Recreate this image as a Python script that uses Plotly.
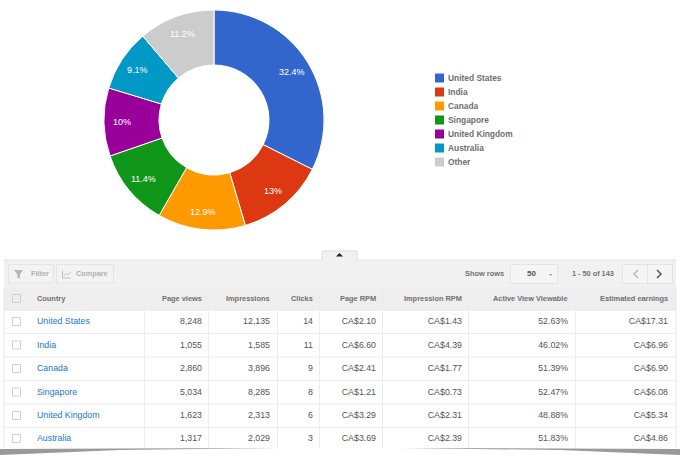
import math

import plotly.graph_objects as go

countries = ['United States', 'India', 'Canada', 'Singapore', 'United Kingdom', 'Australia', 'Other']
shares = [32.4, 13, 12.9, 11.4, 10, 9.1, 11.2]
colors = ['#3366cc', '#dc3912', '#ff9900', '#109618', '#990099', '#0099c6', '#cccccc']

headers = ['Page views', 'Impressions', 'Clicks', 'Page RPM',
           'Impression RPM', 'Active View Viewable', 'Estimated earnings']
table_countries = countries[:6]
page_views = ['8,248', '1,055', '2,860', '5,034', '1,623', '1,317']
impressions = ['12,135', '1,585', '3,896', '8,285', '2,313', '2,029']
clicks = ['14', '11', '9', '8', '6', '3']
page_rpm = ['CA$2.10', 'CA$6.60', 'CA$2.41', 'CA$1.21', 'CA$3.29', 'CA$3.69']
impression_rpm = ['CA$1.43', 'CA$4.39', 'CA$1.77', 'CA$0.73', 'CA$2.31', 'CA$2.39']
viewable = ['52.63%', '46.02%', '51.39%', '52.47%', '48.88%', '51.83%']
earnings = ['CA$17.31', 'CA$6.96', 'CA$6.90', 'CA$6.08', 'CA$5.34', 'CA$4.86']

W, H = 680, 455
FONT = 'Liberation Sans, Arial, sans-serif'
CLEAR = 'rgba(0,0,0,0)'


def px(x):
    return x / W


def py(y):
    return 1 - y / H


def rect(x0, y0, x1, y1, fill=None, line=None, width=1, layer='above'):
    return dict(type='rect', xref='paper', yref='paper', x0=px(x0), x1=px(x1), y0=py(y0), y1=py(y1),
                fillcolor=fill or CLEAR, line=dict(color=line or CLEAR, width=width if line else 0),
                layer=layer)


def path(points, fill=None, line=None, width=1, close=True):
    d = 'M' + ' L'.join(f'{px(x):.5f},{py(y):.5f}' for x, y in points) + (' Z' if close else '')
    return dict(type='path', xref='paper', yref='paper', path=d,
                fillcolor=fill or CLEAR, line=dict(color=line or CLEAR, width=width if line else 0),
                layer='above')


def label(x, y, text, size=8.5, color='#666666', anchor='left', bold=False):
    if bold:
        text = f'<b>{text}</b>'
    return dict(xref='paper', yref='paper', x=px(x), y=py(y), text=text, showarrow=False,
                xanchor=anchor, yanchor='middle', font=dict(family=FONT, size=size, color=color))


fig = go.Figure()

fig.add_trace(go.Pie(
    labels=countries, values=shares, hole=0.5, sort=False, direction='clockwise', rotation=0,
    marker=dict(colors=colors, line=dict(color='white', width=1)),
    textinfo='none',
    domain=dict(x=[px(104), px(324)], y=[py(230), py(10)]),
    showlegend=False,
))

# header text is placed separately, the table's own header row only reserves the space
fig.add_trace(go.Table(
    domain=dict(x=[px(4), px(676)], y=[py(451), py(287.3)]),
    columnwidth=[25, 115, 66, 68, 43, 63, 86, 106, 100],
    header=dict(
        values=[''] * 9, height=22.5,
        fill_color=CLEAR, line=dict(width=0, color=CLEAR),
        font=dict(family=FONT, size=7.4, color='#707070'),
    ),
    cells=dict(
        values=[[''] * 6, table_countries, page_views, impressions, clicks, page_rpm,
                impression_rpm, viewable, earnings],
        align=['left', 'left'] + ['right'] * 7, height=23.4,
        fill_color=CLEAR, line=dict(width=0, color=CLEAR),
        font=dict(family=FONT, size=8.8,
                  color=['#555555', '#2277cc'] + ['#555555'] * 7),
    ),
))

shapes = []
annotations = []

# header band sits under the table text
shapes.append(rect(4, 287, 676, 311, fill='#eeeeee', layer='below'))
annotations.append(label(34.5, 298.8, 'Country', size=7.4, color='#707070', bold=True))
for right, head in zip([203.5, 272, 314.5, 377.5, 463.5, 570, 670], headers):
    annotations.append(label(right, 298.8, head, size=7.4, color='#707070', anchor='right', bold=True))

# slice labels
total = sum(shares)
running = 0
for s in shares:
    angle = 2 * math.pi * (running + s / 2) / total
    running += s
    annotations.append(label(214 + 92 * math.sin(angle), 120.5 - 92 * math.cos(angle), f'{s:g}%',
                             size=9, color='white', anchor='center'))

# panel behind the toolbar
shapes.append(rect(4, 260, 676, 287, fill='#f1f1f1'))
shapes.append(path([(322, 260), (322, 251), (357, 251), (357, 260)], fill='#f1f1f1', line='#dddddd', close=False))
shapes.append(path([(336, 256.5), (343, 256.5), (339.5, 253)], fill='#222222'))
shapes.append(path([(4, 260), (322, 260)], line='#e2e2e2', close=False))
shapes.append(path([(357, 260), (676, 260)], line='#e2e2e2', close=False))

# filter and compare buttons
shapes.append(rect(8.5, 264.5, 53.5, 283, fill='#f3f3f3', line='#e4e4e4'))
shapes.append(rect(56.5, 264.5, 113.5, 283, fill='#f3f3f3', line='#e4e4e4'))
shapes.append(path([(14, 270), (23, 270), (20, 274.5), (20, 278), (17.5, 278), (17.5, 274.5)], fill='#b5b5b5'))
shapes.append(path([(62.5, 270.5), (62.5, 278), (70.5, 278)], line='#c0c0c0', close=False))
shapes.append(path([(64, 276), (66.5, 273.5), (68, 275), (70.5, 272)], line='#c0c0c0', close=False))
annotations.append(label(28.5, 273.5, 'Filter', size=7.3, color='#b0b0b0', bold=True))
annotations.append(label(74.2, 273.5, 'Compare', size=7.3, color='#b0b0b0', bold=True))

# pager
annotations.append(label(462.5, 273.5, 'Show rows', size=7.4, color='#707070', bold=True))
shapes.append(rect(510.5, 264.5, 557.5, 283.5, fill='#f5f5f5', line='#e4e4e4'))
annotations.append(label(531, 273.5, '50', size=8, color='#555555', anchor='center', bold=True))
shapes.append(path([(549, 274), (552.5, 274), (550.75, 276)], fill='#999999'))
annotations.append(label(570.2, 273.5, '1 - 50 of 143', size=7.3, color='#707070', bold=True))
shapes.append(rect(622.5, 264.5, 672.5, 283.5, fill='#f5f5f5', line='#e4e4e4'))
shapes.append(path([(647.5, 264.5), (647.5, 283.5)], line='#e4e4e4', close=False))
shapes.append(path([(638, 270), (634, 274), (638, 278)], line='#bbbbbb', width=1.5, close=False))
shapes.append(path([(657, 270), (661, 274), (657, 278)], line='#555555', width=1.5, close=False))

# grid lines over the table
for y in [333.5, 357, 380.5, 404, 427.5]:
    shapes.append(path([(4, y), (676, y)], line='#ececec', close=False))
for x in [144.5, 208.5, 277.5, 319.5, 382.5, 468.5, 575.5]:
    shapes.append(path([(x, 287), (x, 449)], line='#ececec', close=False))
shapes.append(path([(4, 287), (4, 449)], line='#e8e8e8', close=False))
shapes.append(path([(676, 287), (676, 449)], line='#e8e8e8', close=False))

# checkboxes
for yc in [298.5, 321.5, 345, 368.5, 392, 415.5, 438.5]:
    shapes.append(rect(12.5, yc - 4, 20.5, yc + 4, fill='#eeeeee' if yc < 300 else 'white', line='#d0d0d0'))

# legend
for i, (name, color) in enumerate(zip(countries, colors)):
    y = 78 + i * 14
    shapes.append(rect(435, y - 4.5, 444, y + 4.5, fill=color))
    annotations.append(label(446, y, name, size=8.4, color='#707070', bold=True))

# page shadow along the bottom edge
shapes.append(path([(0, 449), (340, 448), (680, 449), (680, 455), (0, 455)], fill='white'))
shapes.append(path([(0, 449), (120, 448.5), (280, 448), (120, 450), (0, 455)], fill='#9a9a9a'))
shapes.append(path([(680, 449), (560, 448.5), (400, 448), (560, 450), (680, 455)], fill='#9a9a9a'))

fig.update_layout(
    width=W, height=H, margin=dict(l=0, r=0, t=0, b=0),
    paper_bgcolor='white', plot_bgcolor='white',
    shapes=shapes, annotations=annotations,
)

fig.write_html('out.html', config=dict(displayModeBar=False), post_script="document.body.style.margin='0';")
